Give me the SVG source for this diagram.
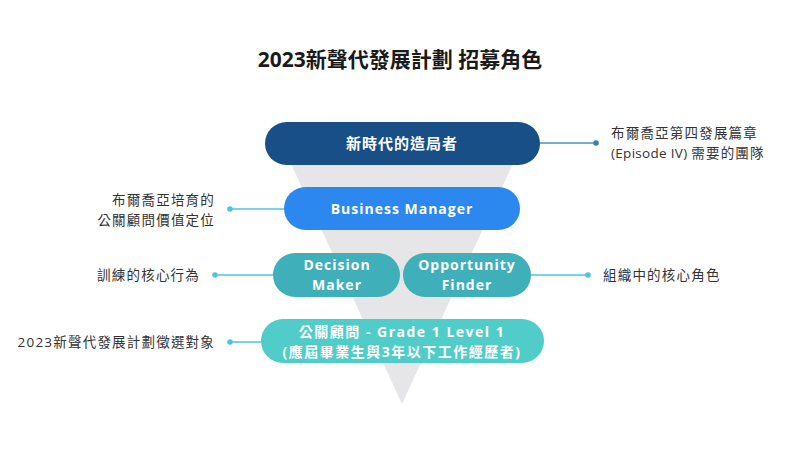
<svg xmlns="http://www.w3.org/2000/svg" width="800" height="450" viewBox="0 0 800 450">
<style>
.title{font-family:"Open Sans","Noto Sans CJK TC",sans-serif;font-weight:700;font-size:21px;fill:#1a1a1a;text-anchor:middle}
.nt{font-family:"Open Sans","Noto Sans CJK TC",sans-serif;font-weight:700;font-size:14px;fill:#ffffff;text-anchor:middle;letter-spacing:1px}
.lbl{font-family:"Open Sans","Noto Sans CJK TC",sans-serif;font-size:13.5px;fill:#333333;letter-spacing:1.2px}
.r{text-anchor:end}
.c1{stroke:#4a90c0;stroke-width:1.5;fill:none}
.c2{stroke:#4fc3e0;stroke-width:1.5;fill:none}
</style>
<rect width="800" height="450" fill="#ffffff"/>
<text class="title" x="400" y="67">2023新聲代發展計劃 招募角色</text>
<polygon points="280,140 524,140 402,404" fill="#e6e6e8"/>
<g id="connectors">
<line class="c1" x1="540" y1="143" x2="596" y2="143"/>
<circle cx="596" cy="143" r="2.8" fill="#3a7fb0"/>
<line class="c2" x1="230" y1="209" x2="284" y2="209"/>
<circle cx="230" cy="209" r="2.8" fill="#4fc3e0"/>
<line class="c2" x1="215" y1="275" x2="273" y2="275"/>
<circle cx="215" cy="275" r="2.8" fill="#4fc3e0"/>
<line class="c2" x1="531" y1="275" x2="588" y2="275"/>
<circle cx="588" cy="275" r="2.8" fill="#4fc3e0"/>
<line class="c2" x1="230" y1="342" x2="261" y2="342"/>
<circle cx="230" cy="342" r="2.8" fill="#4fc3e0"/>
</g>
<g id="node-leader">
<rect x="265" y="122" width="275" height="43" rx="21.5" fill="#174f86"/>
<text class="nt" x="402" y="149" style="font-size:15px">新時代的造局者</text>
</g>
<g id="node-business-manager">
<rect x="284" y="187" width="236" height="43" rx="21.5" fill="#2c87ee"/>
<text class="nt" x="402" y="214">Business Manager</text>
</g>
<g id="node-decision-maker">
<rect x="273" y="253" width="127" height="44" rx="22" fill="#3fb0ba"/>
<text class="nt" x="337" y="270">Decision</text>
<text class="nt" x="337" y="290">Maker</text>
</g>
<g id="node-opportunity-finder">
<rect x="403" y="253" width="128" height="44" rx="22" fill="#3fb0ba"/>
<text class="nt" x="467" y="270">Opportunity</text>
<text class="nt" x="467" y="290">Finder</text>
</g>
<g id="node-grade1">
<rect x="261" y="319" width="283" height="44" rx="22" fill="#50cdc9"/>
<text class="nt" x="402" y="337" style="letter-spacing:1.5px">公關顧問 - Grade 1 Level 1</text>
<text class="nt" x="402" y="357" style="letter-spacing:1.5px">(應屆畢業生與3年以下工作經歷者)</text>
</g>
<g id="label-right-1">
<text class="lbl" x="611" y="138">布爾喬亞第四發展篇章</text>
<text class="lbl" x="611" y="158"><tspan style="letter-spacing:0.3px">(Episode IV) </tspan>需要的團隊</text>
</g>
<g id="label-right-2">
<text class="lbl" x="603" y="280">組織中的核心角色</text>
</g>
<g id="label-left-1">
<text class="lbl r" x="215" y="205">布爾喬亞培育的</text>
<text class="lbl r" x="215" y="225">公關顧問價值定位</text>
</g>
<g id="label-left-2">
<text class="lbl r" x="200" y="280">訓練的核心行為</text>
</g>
<g id="label-left-3">
<text class="lbl r" x="215" y="347">2023新聲代發展計劃徵選對象</text>
</g>
</svg>
